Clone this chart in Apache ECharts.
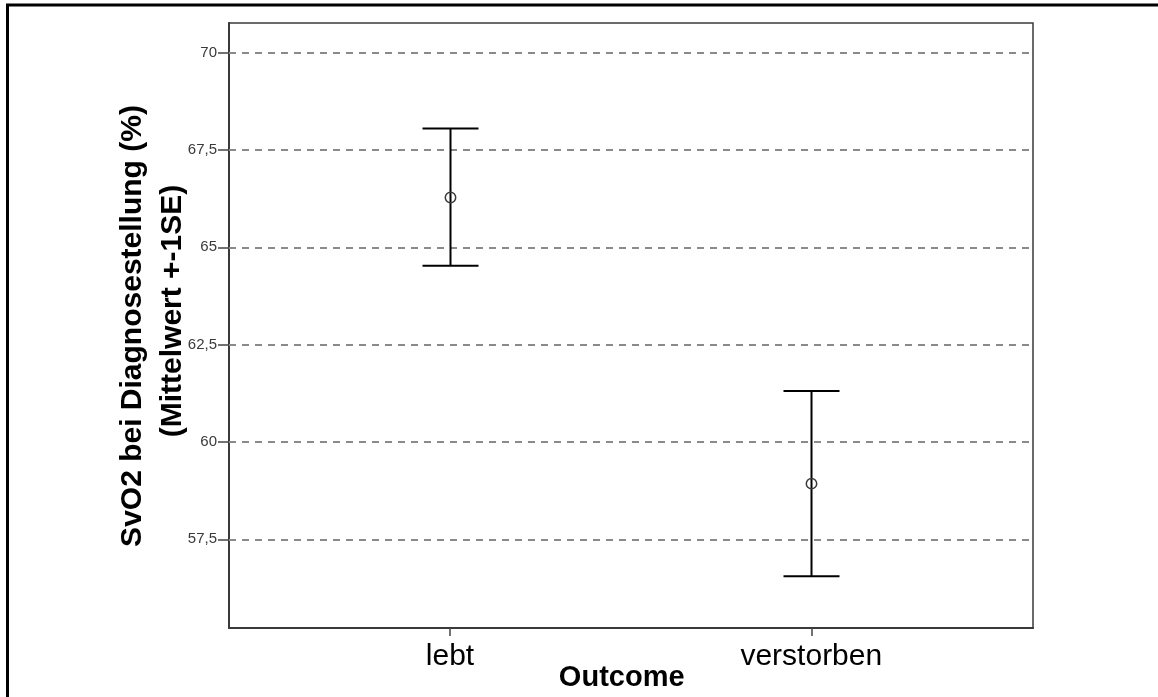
<!DOCTYPE html>
<html>
<head>
<meta charset="utf-8">
<title>SvO2 bei Diagnosestellung</title>
<script src="https://cdn.jsdelivr.net/npm/echarts@6/dist/echarts.min.js"></script>
<style>
  html, body { margin: 0; padding: 0; background: #ffffff; }
  #chart { width: 1158px; height: 697px; }
</style>
</head>
<body>
<div id="chart"></div>
<script>
// Outcome groups and SvO2 at diagnosis: mean with +/- 1 standard error
const categories = ['lebt', 'verstorben'];
const means = [66.28, 58.93];
const seLow = [64.53, 56.55];
const seHigh = [68.05, 61.31];
const yTicks = [57.5, 60, 62.5, 65, 67.5, 70];
const xPositions = [1, 2];

const FONT = 'Arial, "Liberation Sans", sans-serif';

const chart = echarts.init(document.getElementById('chart'), null, { renderer: 'canvas' });

const barData = categories.map((c, i) => [xPositions[i], means[i], seLow[i], seHigh[i]]);

const option = {
  backgroundColor: '#ffffff',
  animation: false,
  grid: {
    left: 229, top: 23, right: 125, bottom: 69,
    show: true,
    borderColor: '#3a3a3a',
    borderWidth: 1.5,
    backgroundColor: 'transparent',
    outerBoundsMode: 'none',
    containLabel: false
  },
  xAxis: {
    type: 'value',
    min: 0.3883,
    max: 2.6136,
    axisLine: { show: true, lineStyle: { color: '#3a3a3a', width: 2 } },
    axisTick: {
      show: true, customValues: xPositions, length: 8,
      lineStyle: { color: '#444', width: 1.5 }
    },
    axisLabel: {
      show: true, customValues: xPositions, margin: 14,
      fontFamily: FONT, fontSize: 30, color: '#000',
      formatter: v => categories[Math.round(v) - 1] || ''
    },
    splitLine: { show: false }
  },
  yAxis: {
    type: 'value',
    min: 55.222,
    max: 70.763,
    axisLine: { show: true, lineStyle: { color: '#3a3a3a', width: 2 } },
    axisTick: {
      show: true, customValues: yTicks, length: 11,
      lineStyle: { color: '#444', width: 1.5 }
    },
    axisLabel: {
      show: true, customValues: yTicks, margin: 12,
      fontFamily: FONT, fontSize: 15, color: '#3a3a3a',
      formatter: v => String(v).replace('.', ',')
    },
    splitLine: { show: false }
  },
  graphic: [
    {
      type: 'polyline',
      shape: { points: [[7.5, 697], [7.5, 5], [1158, 5]] },
      style: { stroke: '#000', lineWidth: 3, fill: null },
      z: 10
    },
    {
      type: 'text',
      x: 132.5, y: 326, rotation: Math.PI / 2,
      style: {
        text: 'SvO2 bei Diagnosestellung (%)',
        font: 'bold 30px ' + FONT,
        fill: '#000', align: 'center', verticalAlign: 'middle'
      }
    },
    {
      type: 'text',
      x: 172.5, y: 311, rotation: Math.PI / 2,
      style: {
        text: '(Mittelwert +-1SE)',
        font: 'bold 30px ' + FONT,
        fill: '#000', align: 'center', verticalAlign: 'middle'
      }
    },
    {
      type: 'text',
      x: 621.7, y: 677.5,
      style: {
        text: 'Outcome',
        font: 'bold 29px ' + FONT,
        fill: '#000', align: 'center', verticalAlign: 'middle'
      }
    }
  ],
  series: [
    {
      // dashed reference lines at each labelled tick
      type: 'line',
      data: [],
      z: 1,
      silent: true,
      markLine: {
        silent: true,
        symbol: ['none', 'none'],
        label: { show: false },
        lineStyle: { color: '#8a8a8a', width: 2, type: [7, 6] },
        data: yTicks.map(v => ({ yAxis: v }))
      }
    },
    {
      type: 'custom',
      z: 5,
      data: barData,
      encode: { x: 0, y: [1, 2, 3] },
      renderItem: function (params, api) {
        const x = api.value(0);
        const mid = api.coord([x, api.value(1)]);
        const lo = api.coord([x, api.value(2)]);
        const hi = api.coord([x, api.value(3)]);
        const half = 28;
        const px = Math.round(mid[0]) + 0.5;
        const lineStyle = { stroke: '#000', lineWidth: 2 };
        return {
          type: 'group',
          children: [
            { type: 'line', shape: { x1: px, y1: hi[1], x2: px, y2: lo[1] }, style: lineStyle },
            { type: 'line', shape: { x1: px - half, y1: hi[1], x2: px + half, y2: hi[1] }, style: lineStyle },
            { type: 'line', shape: { x1: px - half, y1: lo[1], x2: px + half, y2: lo[1] }, style: lineStyle },
            { type: 'circle', shape: { cx: px, cy: mid[1], r: 5.2 }, style: { stroke: '#3a3a3a', lineWidth: 1.5, fill: null } }
          ]
        };
      }
    }
  ]
};

chart.setOption(option);
</script>
</body>
</html>
